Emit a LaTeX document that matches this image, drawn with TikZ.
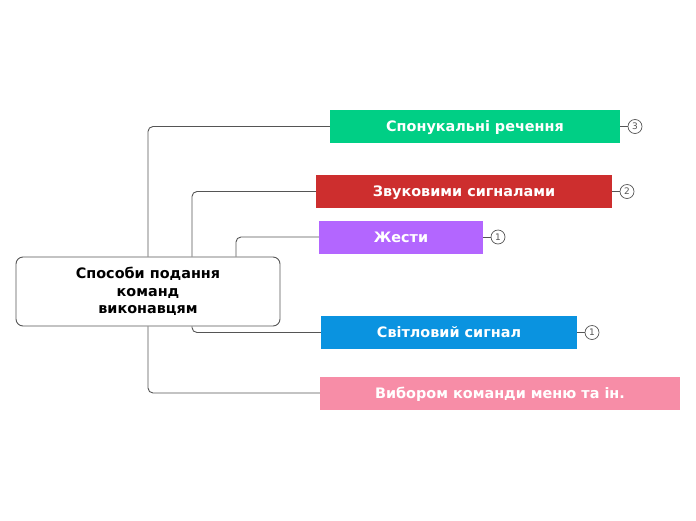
\documentclass[tikz,border=0pt]{standalone}
\usepackage{fontspec}
\setmainfont{DejaVu Sans}
\definecolor{topicgreen}{HTML}{00CF85}
\definecolor{topicred}{HTML}{CD2E2E}
\definecolor{topicpurple}{HTML}{B366FF}
\definecolor{topicblue}{HTML}{0A93E0}
\definecolor{topicpink}{HTML}{F78DA7}
\definecolor{linkgray}{HTML}{555555}
\begin{document}
\begin{tikzpicture}[x=1pt,y=-1pt,
  topic/.style={minimum height=33pt,inner sep=0pt,text=white,
    text height=12pt,text depth=1.5pt,
    font=\fontsize{14.4}{16}\selectfont\bfseries},
  link/.style={draw=linkgray,line width=0.9pt,rounded corners=5pt},
  badge/.style={circle,draw=linkgray,line width=0.7pt,minimum size=14pt,
    inner sep=0pt,text=linkgray,font=\fontsize{9}{10}\selectfont}]
\useasboundingbox (0,0) rectangle (696,520);

% Central topic.
\node[draw=linkgray,line width=0.9pt,rounded corners=7pt,minimum width=264pt,
  minimum height=69pt,align=center,font=\fontsize{14.4}{17.5}\selectfont\bfseries]
  (root) at (148,291.5) {Способи подання\\команд\\виконавцям};

% Subtopics.
\node[topic,fill=topicgreen,minimum width=290pt] (spon) at (475,126.5) {Спонукальні речення};
\node[topic,fill=topicred,minimum width=296pt] (zvuk) at (464,191.5) {Звуковими сигналами};
\node[topic,fill=topicpurple,minimum width=164pt] (zhest) at (401,237) {Жести};
\node[topic,fill=topicblue,minimum width=256pt] (svit) at (449,332.5) {Світловий сигнал};
\node[topic,fill=topicpink,minimum width=360pt] (vybir) at (500,393) {Вибором команди меню та ін.};

% Elbow links from the central topic.
\draw[link] (root.north) |- (spon.west);
\draw[link] ([xshift=44pt]root.north) |- (zvuk.west);
\draw[link] ([xshift=88pt]root.north) |- (zhest.west);
\draw[link] ([xshift=44pt]root.south) |- (svit.west);
\draw[link] (root.south) |- (vybir.west);

% Count badges.
\node[badge] (b3) at (635,126.5) {3};
\node[badge] (b2) at (627,191.5) {2};
\node[badge] (b1a) at (498,237) {1};
\node[badge] (b1b) at (592,332.5) {1};
\draw[link] (spon.east) -- (b3.west);
\draw[link] (zvuk.east) -- (b2.west);
\draw[link] (zhest.east) -- (b1a.west);
\draw[link] (svit.east) -- (b1b.west);
\end{tikzpicture}
\end{document}
